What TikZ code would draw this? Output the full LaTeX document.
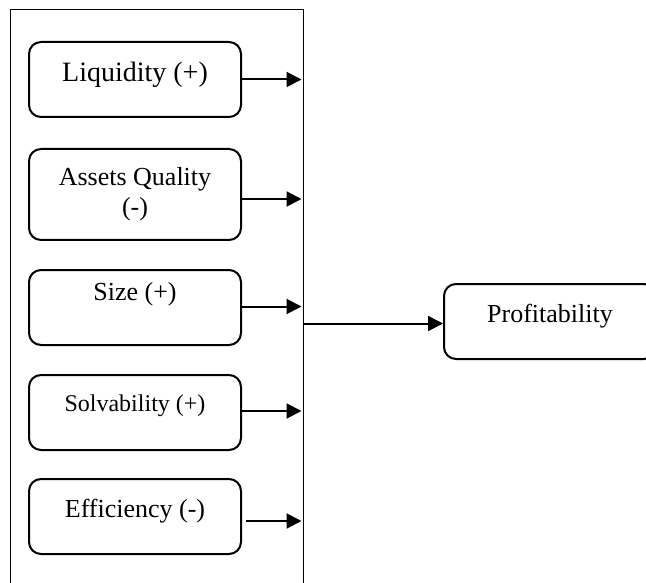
\documentclass[tikz,border=0pt]{standalone}
\usepackage{fontspec}
\setmainfont{Liberation Serif}
\usetikzlibrary{arrows.meta,positioning}

\begin{document}
\begin{tikzpicture}[x=1pt,y=-1pt,node distance=28pt,
 box/.style={draw,line width=2pt,rounded corners=12pt,minimum width=212pt,minimum height=75pt,inner sep=0pt,align=center,font=\fontsize{26}{30}\selectfont},
 lift/.style={text height=18pt,text depth=#1},
 arr/.style={-{Triangle[length=15pt,width=15pt]},line width=2pt}]
\clip (0,0) rectangle (646,583);
\node[draw,line width=1pt,minimum width=293pt,minimum height=620pt,inner sep=0pt] (frame) at (156.5,320) {};
\node[box,lift=13pt,font=\fontsize{28}{32}\selectfont] (liq) at (135,79.5) {Liquidity (+)};
\node[box,minimum height=91pt,below=30pt of liq] (aq) {Assets Quality\\(-)};
\node[box,lift=33pt,below=of aq] (size) {Size (+)};
\node[box,lift=21pt,below=of size,font=\fontsize{24}{28}\selectfont] (solv) {Solvability (+)};
\node[box,lift=16pt,below=27pt of solv] (eff) {Efficiency (-)};
\node[box,lift=16pt] (prof) at (550,321.5) {Profitability};
% factors to the frame
\draw[arr,shorten >=2pt] (liq.east) -- (liq.east -| frame.east);
\draw[arr,shorten >=2pt] ([yshift=-4.5pt]aq.east) -- ([yshift=-4.5pt]aq.east -| frame.east);
\draw[arr,shorten >=2pt] ([yshift=1pt]size.east) -- ([yshift=1pt]size.east -| frame.east);
\draw[arr,shorten >=2pt] ([yshift=1.5pt]solv.east) -- ([yshift=1.5pt]solv.east -| frame.east);
\draw[arr,shorten >=2pt,shorten <=4pt] ([yshift=-4.5pt]eff.east) -- ([yshift=-4.5pt]eff.east -| frame.east);
% frame to outcome
\draw[arr] ([yshift=-2pt]frame.east |- prof.west) -- ([yshift=-2pt]prof.west);
\end{tikzpicture}
\end{document}
